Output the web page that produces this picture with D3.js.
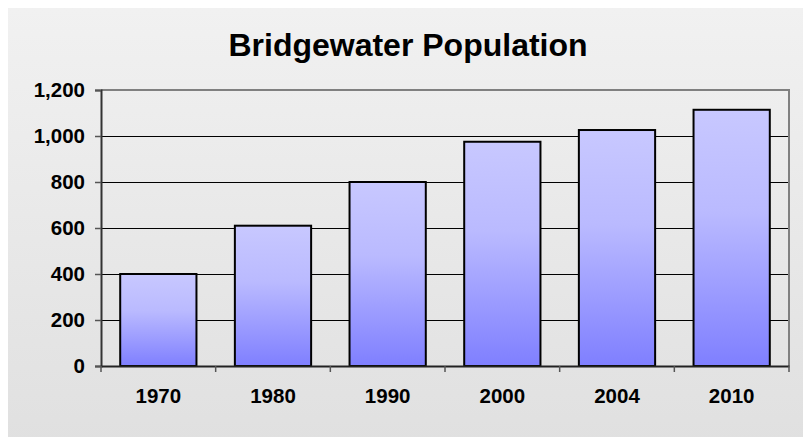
<!DOCTYPE html>
<html>
<head>
<meta charset="utf-8">
<script src="https://cdn.jsdelivr.net/npm/d3@7"></script>
<style>
  body { margin: 0; background: #fff; }
  text { font-family: "Liberation Sans", Arial, sans-serif; font-weight: bold; fill: #000; }
</style>
</head>
<body>
<script>
const years = ["1970", "1980", "1990", "2000", "2004", "2010"];
const population = [400, 610, 800, 975, 1026, 1114];
const yTicks = [0, 200, 400, 600, 800, 1000, 1200];

const width = 803, height = 437;
const plot = {left: 101, right: 789, top: 90, bottom: 366};

const svg = d3.select("body").append("svg")
    .attr("width", width)
    .attr("height", height);

const defs = svg.append("defs");
const bg = defs.append("linearGradient").attr("id", "bg")
    .attr("x1", 0).attr("y1", 0).attr("x2", 0).attr("y2", 1);
bg.append("stop").attr("offset", "0%").attr("stop-color", "#f1f1f1");
bg.append("stop").attr("offset", "100%").attr("stop-color", "#e0e0e0");

const barGrad = defs.append("linearGradient").attr("id", "bar")
    .attr("x1", 0).attr("y1", 0).attr("x2", 0).attr("y2", 1);
barGrad.append("stop").attr("offset", "0%").attr("stop-color", "#c8c8ff");
barGrad.append("stop").attr("offset", "40%").attr("stop-color", "#babaff");
barGrad.append("stop").attr("offset", "100%").attr("stop-color", "#7f7fff");

svg.append("rect")
    .attr("x", 8).attr("y", 8)
    .attr("width", width).attr("height", height)
    .attr("fill", "url(#bg)");

const x = d3.scaleBand()
    .domain(years)
    .range([plot.left, plot.right])
    .paddingInner(0.335)
    .paddingOuter(0.1675);

const y = d3.scaleLinear()
    .domain([0, 1200])
    .range([plot.bottom, plot.top]);

// gridlines
svg.append("g")
    .selectAll("line")
    .data(yTicks.filter(d => d > 0 && d < 1200))
    .join("line")
    .attr("x1", plot.left).attr("x2", plot.right)
    .attr("y1", d => y(d)).attr("y2", d => y(d))
    .attr("stroke", "#000")
    .attr("stroke-width", 1)
    .attr("shape-rendering", "crispEdges");

// plot border top/right
svg.append("path")
    .attr("d", `M${plot.left},${plot.top}H${plot.right}V${plot.bottom}`)
    .attr("fill", "none")
    .attr("stroke", "#808080")
    .attr("stroke-width", 2);

// bars
svg.append("g")
    .selectAll("rect")
    .data(population)
    .join("rect")
    .attr("x", (d, i) => x(years[i]))
    .attr("y", d => y(d))
    .attr("width", x.bandwidth())
    .attr("height", d => y(0) - y(d))
    .attr("fill", "url(#bar)")
    .attr("stroke", "#000")
    .attr("stroke-width", 2);

// y axis
const yAxis = svg.append("g")
    .attr("transform", `translate(${plot.left},0)`)
    .call(d3.axisLeft(y).tickValues(yTicks).tickSize(6).tickPadding(10)
        .tickFormat(d3.format(",")));
yAxis.select(".domain").attr("stroke", "#333").attr("stroke-width", 2);
yAxis.selectAll(".tick line").attr("stroke", "#555").attr("stroke-width", 1.5);
yAxis.selectAll(".tick text")
    .attr("font-size", 20.5)
    .attr("font-family", "Liberation Sans, Arial, sans-serif")
    .attr("font-weight", "bold")
    .attr("fill", "#000");

// x axis
const xAxis = svg.append("g")
    .attr("transform", `translate(0,${plot.bottom})`)
    .call(d3.axisBottom(x).tickSize(0).tickPadding(22));
xAxis.select(".domain").attr("stroke", "#222").attr("stroke-width", 2);
xAxis.selectAll(".tick text")
    .attr("font-size", 20.5)
    .attr("font-family", "Liberation Sans, Arial, sans-serif")
    .attr("font-weight", "bold")
    .attr("fill", "#000");

// category separator ticks
const bounds = years.map(d => x(d) - x.step() * x.paddingOuter()).concat([plot.right]);
svg.append("g")
    .selectAll("line")
    .data(bounds)
    .join("line")
    .attr("x1", d => d).attr("x2", d => d)
    .attr("y1", plot.bottom).attr("y2", plot.bottom + 6)
    .attr("stroke", "#555")
    .attr("stroke-width", 1.5);

// title
svg.append("text")
    .attr("x", 408)
    .attr("y", 56)
    .attr("text-anchor", "middle")
    .attr("font-size", 32)
    .text("Bridgewater Population");
</script>
</body>
</html>
